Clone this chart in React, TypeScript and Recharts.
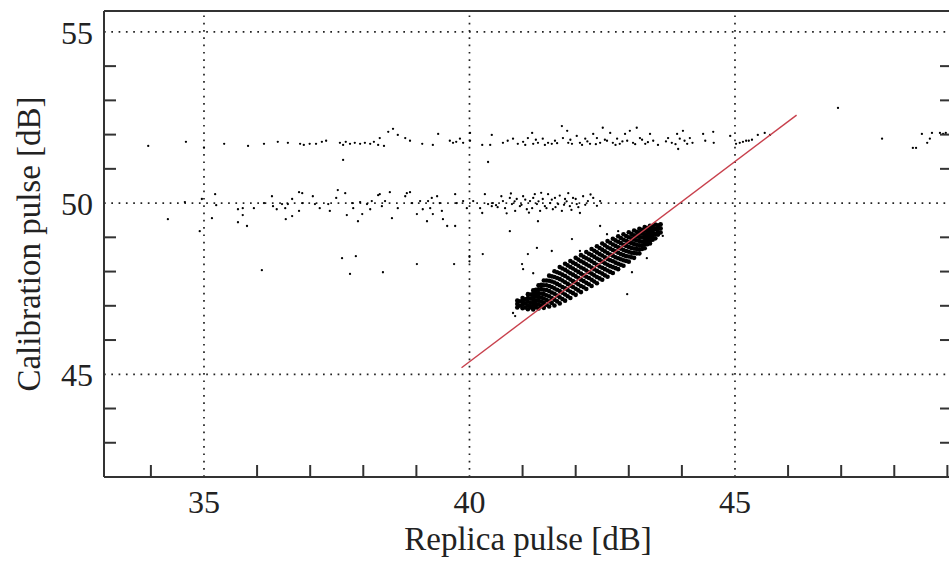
import React from 'react';
import { ScatterChart, Scatter, XAxis, YAxis, ReferenceLine } from 'recharts';

// ---- axis data ----
const xDomain: [number, number] = [33.117, 49.087];
const yDomain: [number, number] = [42, 55.61];
const xTicks = [34, 35, 36, 37, 38, 39, 40, 41, 42, 43, 44, 45, 46, 47, 48, 49];
const xLabels = [35, 40, 45];
const yTicks = [43, 44, 45, 46, 47, 48, 49, 50, 51, 52, 53, 54, 55];
const yLabels = [45, 50, 55];
const gridX = [35, 40, 45];
const gridY = [45, 50, 55];
const xTitle = 'Replica pulse [dB]';
const yTitle = 'Calibration pulse [dB]';

// ---- series: upper band (~51.8 dB) ----
const upperBand: [number, number][] = [
  [33.95, 51.67], [34.66, 51.79], [35.0, 51.62], [35.38, 51.73], [35.83, 51.67], [36.13, 51.73],
  [36.39, 51.79], [36.58, 51.76], [36.81, 51.73], [36.88, 51.7], [36.99, 51.73], [37.11, 51.73],
  [37.22, 51.79], [37.3, 51.82], [37.56, 51.76], [37.62, 51.7], [37.67, 51.79], [37.75, 51.73],
  [37.84, 51.76], [37.94, 51.73], [38.03, 51.76], [38.13, 51.73], [38.2, 51.79], [38.28, 51.7],
  [38.31, 51.9], [38.39, 51.67], [38.47, 52.08], [38.56, 52.17], [38.65, 51.99], [38.79, 51.9],
  [38.88, 51.82], [39.11, 51.73], [39.31, 51.7], [39.41, 52.02], [39.63, 51.82], [39.69, 51.76],
  [39.75, 51.79], [39.82, 51.88], [39.88, 51.76], [40.01, 52.05], [40.01, 51.82], [40.24, 51.7],
  [40.35, 51.2], [40.39, 51.7], [40.42, 51.99], [37.62, 51.26],
  [40.63, 51.76], [40.72, 51.82], [40.82, 51.88], [40.91, 51.73], [41.01, 51.79], [41.1, 51.9],
  [41.18, 52.05], [41.2, 51.73], [41.29, 51.76], [41.38, 51.88], [41.48, 51.76], [41.55, 51.73],
  [41.61, 51.82], [41.74, 52.25], [41.76, 51.9], [41.84, 52.11], [41.86, 51.76], [41.93, 51.73],
  [42.02, 51.96], [42.08, 51.76], [42.18, 51.88], [42.27, 51.73], [42.33, 52.02], [42.4, 51.9],
  [42.46, 51.76], [42.51, 52.2], [42.59, 51.82], [42.65, 52.05], [42.7, 51.76], [42.78, 51.88],
  [42.83, 51.73], [42.93, 52.02], [42.97, 51.82], [43.02, 52.11], [43.08, 51.76], [43.15, 52.2],
  [43.21, 51.9], [43.31, 51.73], [43.4, 52.02], [43.46, 51.82], [43.74, 51.9], [43.81, 51.76],
  [43.91, 52.02], [43.96, 51.88], [44.02, 52.11], [44.1, 51.73], [44.15, 51.9], [43.93, 51.58],
  [41.05, 51.7], [41.25, 51.85], [41.42, 51.7], [41.65, 51.75], [41.9, 51.85], [42.12, 51.7],
  [42.22, 51.8], [42.38, 51.72], [42.55, 51.85], [42.75, 51.7], [42.88, 51.8], [43.12, 51.72],
  [43.25, 51.85], [43.36, 51.78], [43.55, 51.7], [43.7, 51.8], [43.88, 51.72], [44.05, 51.82],
  [44.2, 51.76],
  [44.4, 52.02], [44.59, 52.08], [44.44, 51.82], [44.6, 51.76], [44.91, 51.96], [45.02, 51.73],
  [45.09, 51.76], [45.15, 51.79], [45.21, 51.82], [45.26, 51.82], [45.32, 51.85], [45.43, 51.99],
  [45.56, 52.05], [45.66, 51.99], [46.94, 52.78], [47.77, 51.88], [48.35, 51.61], [48.41, 51.61],
  [48.52, 52.02], [48.62, 51.76], [48.67, 51.88], [48.71, 52.05], [48.86, 52.05], [48.92, 52.02],
  [48.97, 52.05],
];

// ---- series: middle band (~50 dB) ----
const middleBand: [number, number][] = [
  [34.32, 49.53], [34.64, 50.03], [34.92, 49.18], [34.96, 50.12], [35.15, 49.56], [35.21, 50.26],
  [35.23, 49.94], [35.64, 49.82], [35.64, 49.44], [35.73, 49.85], [35.73, 49.65], [35.81, 49.33],
  [35.94, 49.85], [36.13, 50.0], [36.28, 50.2], [36.3, 49.91], [36.37, 49.82], [36.47, 49.97],
  [36.53, 49.85], [36.54, 49.53], [36.58, 49.97], [36.66, 50.12], [36.66, 49.62], [36.79, 50.32],
  [36.79, 49.77], [36.85, 50.29], [36.86, 50.0], [37.05, 50.2], [37.09, 49.97], [37.18, 49.85],
  [37.34, 49.97], [37.37, 49.77], [37.49, 50.15], [37.52, 50.38], [37.66, 50.29], [37.69, 49.65],
  [37.79, 50.0], [37.81, 49.85], [37.9, 49.47], [37.94, 50.03], [37.98, 49.68], [38.07, 49.97],
  [38.13, 49.82], [38.16, 50.06], [38.28, 50.23], [38.31, 50.26], [38.35, 49.91], [38.41, 50.06],
  [38.5, 50.32], [38.54, 49.56], [38.65, 49.85], [38.79, 50.2], [38.82, 50.29], [38.88, 50.32],
  [38.92, 50.0], [39.01, 49.68], [39.07, 50.06], [39.12, 49.82], [39.2, 49.47], [39.22, 50.06],
  [39.26, 49.85], [39.29, 50.15], [39.31, 49.68], [39.39, 50.2], [39.44, 50.0], [39.48, 49.77],
  [39.5, 49.53], [39.58, 49.33], [39.73, 49.33], [39.73, 50.26], [39.76, 50.0], [39.88, 50.06],
  [39.95, 49.85], [40.07, 50.06], [40.2, 49.85], [40.24, 49.71], [40.29, 50.26], [40.35, 49.97],
  [40.42, 49.91], [40.44, 50.0], [40.5, 49.94], [40.53, 49.88],
  [40.63, 50.06], [40.67, 49.85], [40.76, 50.15], [40.8, 49.97], [40.86, 49.77], [40.89, 50.12],
  [40.95, 49.91], [41.01, 50.2], [41.08, 49.82], [41.14, 50.06], [41.18, 49.85], [41.23, 50.26],
  [41.27, 49.97], [41.33, 49.77], [41.38, 50.12], [41.42, 49.91], [41.48, 50.26], [41.52, 50.0],
  [41.57, 49.82], [41.61, 50.15], [41.67, 49.97], [41.74, 49.77], [41.8, 50.12], [41.86, 50.29],
  [41.89, 49.91], [41.95, 50.15], [42.02, 49.97], [42.08, 49.71], [42.14, 50.2], [42.23, 50.06],
  [42.33, 50.15], [42.46, 50.06],
  [40.6, 50.2], [40.7, 49.7], [40.78, 50.28], [40.85, 50.05], [40.98, 49.95], [41.05, 50.1],
  [41.12, 49.72], [41.2, 50.15], [41.3, 50.05], [41.35, 50.3], [41.45, 49.85], [41.55, 50.1],
  [41.62, 49.88], [41.7, 50.22], [41.78, 49.95], [41.83, 50.05], [41.92, 49.8], [42.0, 50.12],
  [42.05, 49.88], [42.18, 49.95], [42.28, 50.25], [42.4, 49.92],
];

// ---- series: sparse points (~48 dB and around the cluster) ----
const sparsePoints: [number, number][] = [
  [36.09, 48.04], [37.6, 48.39], [37.86, 48.45], [37.75, 47.93], [38.37, 47.98], [39.01, 48.22],
  [39.71, 48.22], [40.25, 48.51], [40.0, 48.45], [40.0, 48.3],
  [40.76, 49.18], [41.27, 48.69], [41.55, 48.6], [41.1, 48.51], [40.99, 48.22], [41.01, 48.07],
  [41.2, 47.95], [41.93, 48.95], [42.08, 48.6], [42.46, 49.33], [42.59, 49.09], [42.8, 49.18],
  [43.34, 48.39], [43.64, 49.04], [43.59, 49.39], [42.97, 47.34], [43.06, 47.98], [41.29, 49.47],
  [40.82, 46.79], [40.86, 46.7],
];

// ---- series: dense cluster, columns of [x, y values] ----
const clusterCols: [number, number[]][] = [
  [40.9, [46.95, 47.05, 47.15]],
  [40.95, [47.0, 47.13]],
  [41.0, [46.93, 47.03, 47.13, 47.23]],
  [41.05, [46.95, 47.07, 47.19]],
  [41.1, [46.9, 47.01, 47.12, 47.23, 47.34]],
  [41.15, [46.96, 47.08, 47.21, 47.33]],
  [41.2, [46.89, 46.99, 47.08, 47.17, 47.26, 47.35, 47.45]],
  [41.25, [46.96, 47.06, 47.16, 47.27, 47.37, 47.47]],
  [41.3, [46.92, 47.04, 47.15, 47.26, 47.37, 47.48, 47.6]],
  [41.35, [46.99, 47.12, 47.24, 47.36, 47.49, 47.61]],
  [41.4, [46.94, 47.08, 47.21, 47.34, 47.47, 47.6, 47.74]],
  [41.45, [47.03, 47.17, 47.31, 47.46, 47.6, 47.74]],
  [41.5, [46.98, 47.13, 47.28, 47.43, 47.58, 47.73, 47.88]],
  [41.55, [47.08, 47.23, 47.39, 47.55, 47.71, 47.86]],
  [41.6, [47.01, 47.18, 47.35, 47.51, 47.68, 47.84, 48.01]],
  [41.65, [47.13, 47.3, 47.47, 47.64, 47.81, 47.98]],
  [41.7, [47.07, 47.25, 47.43, 47.6, 47.78, 47.95, 48.13]],
  [41.75, [47.2, 47.38, 47.55, 47.74, 47.91, 48.09]],
  [41.8, [47.15, 47.33, 47.51, 47.69, 47.87, 48.05, 48.23]],
  [41.85, [47.28, 47.46, 47.64, 47.82, 48.0, 48.18]],
  [41.9, [47.23, 47.41, 47.59, 47.77, 47.95, 48.13, 48.31]],
  [41.95, [47.37, 47.55, 47.72, 47.91, 48.09, 48.26]],
  [42.0, [47.32, 47.5, 47.68, 47.86, 48.04, 48.22, 48.4]],
  [42.05, [47.45, 47.63, 47.81, 47.99, 48.17, 48.35]],
  [42.1, [47.4, 47.58, 47.76, 47.94, 48.12, 48.3, 48.48]],
  [42.15, [47.54, 47.72, 47.89, 48.08, 48.26, 48.43]],
  [42.2, [47.49, 47.67, 47.85, 48.03, 48.21, 48.39, 48.57]],
  [42.25, [47.63, 47.81, 47.98, 48.17, 48.35, 48.52]],
  [42.3, [47.58, 47.76, 47.94, 48.12, 48.3, 48.48, 48.66]],
  [42.35, [47.71, 47.89, 48.07, 48.25, 48.43, 48.61]],
  [42.4, [47.66, 47.84, 48.02, 48.2, 48.38, 48.56, 48.74]],
  [42.45, [47.8, 47.98, 48.15, 48.34, 48.51, 48.69]],
  [42.5, [47.76, 47.94, 48.11, 48.29, 48.47, 48.64, 48.82]],
  [42.55, [47.89, 48.07, 48.24, 48.42, 48.59, 48.77]],
  [42.6, [47.85, 48.03, 48.2, 48.37, 48.54, 48.71, 48.89]],
  [42.65, [47.99, 48.16, 48.33, 48.5, 48.67, 48.84]],
  [42.7, [47.96, 48.13, 48.3, 48.46, 48.63, 48.79, 48.96]],
  [42.75, [48.1, 48.26, 48.42, 48.59, 48.75, 48.91]],
  [42.8, [48.07, 48.23, 48.39, 48.55, 48.71, 48.87, 49.03]],
  [42.85, [48.2, 48.36, 48.51, 48.67, 48.83, 48.98]],
  [42.9, [48.17, 48.33, 48.48, 48.63, 48.78, 48.93, 49.09]],
  [42.95, [48.31, 48.45, 48.6, 48.75, 48.9, 49.04]],
  [43.0, [48.29, 48.44, 48.58, 48.72, 48.86, 49.0, 49.15]],
  [43.05, [48.42, 48.55, 48.69, 48.83, 48.97, 49.1]],
  [43.1, [48.4, 48.54, 48.67, 48.8, 48.93, 49.06, 49.2]],
  [43.15, [48.53, 48.66, 48.78, 48.91, 49.03, 49.16]],
  [43.2, [48.53, 48.65, 48.77, 48.89, 49.01, 49.13, 49.25]],
  [43.25, [48.66, 48.77, 48.88, 49.0, 49.11, 49.22]],
  [43.3, [48.68, 48.79, 48.89, 48.99, 49.09, 49.19, 49.3]],
  [43.35, [48.8, 48.89, 48.99, 49.08, 49.18, 49.27]],
  [43.4, [48.82, 48.91, 48.99, 49.08, 49.17, 49.25, 49.34]],
  [43.45, [48.93, 49.01, 49.09, 49.16, 49.24, 49.32]],
  [43.5, [48.97, 49.1, 49.24, 49.37]],
  [43.55, [49.08, 49.16, 49.27, 49.35]],
  [43.6, [49.14, 49.26, 49.38]],
];

// ---- fitted line end points ----
const fitLine = [
  { x: 39.85, y: 45.19 },
  { x: 46.16, y: 52.57 },
];

const toPts = (arr: [number, number][]) => arr.map(([x, y]) => ({ x, y }));
const scatterData = [...toPts(upperBand), ...toPts(middleBand), ...toPts(sparsePoints)];
const clusterData = clusterCols.flatMap(([x, ys]) => ys.map((y) => ({ x, y })));

const FONT = '"Liberation Serif", "Times New Roman", serif';
const INK = '#222';
const AXIS = '#333';
const TICK_LEN = 12;
const FIT_COLOR = '#c8404c';

const smallDot = (p: any) => <circle cx={p.cx} cy={p.cy} r={1.15} fill="#000" />;
const bigDot = (p: any) => <circle cx={p.cx} cy={p.cy} r={2.3} fill="#000" />;
const noDot = () => <g />;

const BottomTick = (p: any) => {
  const v = p.payload.value;
  const major = xLabels.includes(v);
  return (
    <g>
      {!major && <line x1={p.x} x2={p.x} y1={p.y} y2={p.y - TICK_LEN} stroke={AXIS} strokeWidth={2} />}
      {major && (
        <text x={p.x} y={p.y + 36} textAnchor="middle" fontFamily={FONT} fontSize={32} fill={INK}>
          {v}
        </text>
      )}
    </g>
  );
};
const TopTick = (p: any) => {
  const v = p.payload.value;
  if (xLabels.includes(v)) return <g />;
  return <line x1={p.x} x2={p.x} y1={p.y} y2={p.y + TICK_LEN} stroke={AXIS} strokeWidth={2} />;
};
const LeftTick = (p: any) => {
  const v = p.payload.value;
  const major = yLabels.includes(v);
  return (
    <g>
      {!major && <line x1={p.x} x2={p.x + TICK_LEN} y1={p.y} y2={p.y} stroke={AXIS} strokeWidth={2} />}
      {major && (
        <text x={p.x - 11} y={p.y + 12} textAnchor="end" fontFamily={FONT} fontSize={32} fill={INK}>
          {v}
        </text>
      )}
    </g>
  );
};
const RightTick = (p: any) => {
  const v = p.payload.value;
  if (yLabels.includes(v)) return <g />;
  return <line x1={p.x} x2={p.x - TICK_LEN} y1={p.y} y2={p.y} stroke={AXIS} strokeWidth={2} />;
};

const XTitle = (p: any) => {
  const vb = p.viewBox || { x: 104, y: 477, width: 848, height: 88 };
  return (
    <text x={vb.x + vb.width / 2} y={vb.y + 73} textAnchor="middle" fontFamily={FONT} fontSize={33} fill={INK}>
      {xTitle}
    </text>
  );
};
const YTitle = (p: any) => {
  const vb = p.viewBox || { x: 0, y: 11, width: 104, height: 466 };
  const cx = 40;
  const cy = vb.y + vb.height / 2;
  return (
    <text
      x={cx}
      y={cy}
      transform={`rotate(-90, ${cx}, ${cy})`}
      textAnchor="middle"
      fontFamily={FONT}
      fontSize={33}
      fill={INK}
    >
      {yTitle}
    </text>
  );
};

export default function App() {
  return (
    <div
      style={{
        position: 'fixed',
        left: 0,
        top: 0,
        width: 949,
        height: 565,
        overflow: 'hidden',
        background: '#fff',
      }}
    >
      <ScatterChart width={953} height={565} margin={{ top: 0, right: 0, bottom: 0, left: 0 }}>
        <XAxis
          xAxisId="bottom"
          type="number"
          dataKey="x"
          orientation="bottom"
          domain={xDomain}
          allowDataOverflow
          ticks={xTicks}
          interval={0}
          height={88}
          tickSize={0}
          tickMargin={0}
          tickLine={false}
          tick={BottomTick}
          axisLine={{ stroke: AXIS, strokeWidth: 2 }}
          label={XTitle}
        />
        <XAxis
          xAxisId="top"
          type="number"
          orientation="top"
          domain={xDomain}
          allowDataOverflow
          ticks={xTicks}
          interval={0}
          height={11}
          tickSize={0}
          tickMargin={0}
          tickLine={false}
          tick={TopTick}
          axisLine={{ stroke: AXIS, strokeWidth: 2 }}
        />
        <YAxis
          yAxisId="left"
          type="number"
          dataKey="y"
          orientation="left"
          domain={yDomain}
          allowDataOverflow
          ticks={yTicks}
          interval={0}
          width={104}
          tickSize={0}
          tickMargin={0}
          tickLine={false}
          tick={LeftTick}
          axisLine={{ stroke: AXIS, strokeWidth: 2 }}
          label={YTitle}
        />
        <YAxis
          yAxisId="right"
          type="number"
          orientation="right"
          domain={yDomain}
          allowDataOverflow
          ticks={yTicks}
          interval={0}
          width={1}
          tickSize={0}
          tickMargin={0}
          tickLine={false}
          tick={RightTick}
          axisLine={{ stroke: AXIS, strokeWidth: 2 }}
        />
        {gridX.map((v) => (
          <ReferenceLine
            key={`gx${v}`}
            x={v}
            xAxisId="bottom"
            yAxisId="left"
            stroke={INK}
            strokeWidth={1.7}
            strokeDasharray="1.7 5.6"
          />
        ))}
        {gridY.map((v) => (
          <ReferenceLine
            key={`gy${v}`}
            y={v}
            xAxisId="bottom"
            yAxisId="left"
            stroke={INK}
            strokeWidth={1.7}
            strokeDasharray="1.7 5.6"
          />
        ))}
        <Scatter
          data={clusterData}
          xAxisId="bottom"
          yAxisId="left"
          shape={bigDot}
          isAnimationActive={false}
        />
        <Scatter
          data={scatterData}
          xAxisId="bottom"
          yAxisId="left"
          shape={smallDot}
          isAnimationActive={false}
        />
        <Scatter
          data={fitLine}
          xAxisId="bottom"
          yAxisId="left"
          shape={noDot}
          line={{ stroke: FIT_COLOR, strokeWidth: 1.4 }}
          lineType="joint"
          isAnimationActive={false}
        />
      </ScatterChart>
    </div>
  );
}
